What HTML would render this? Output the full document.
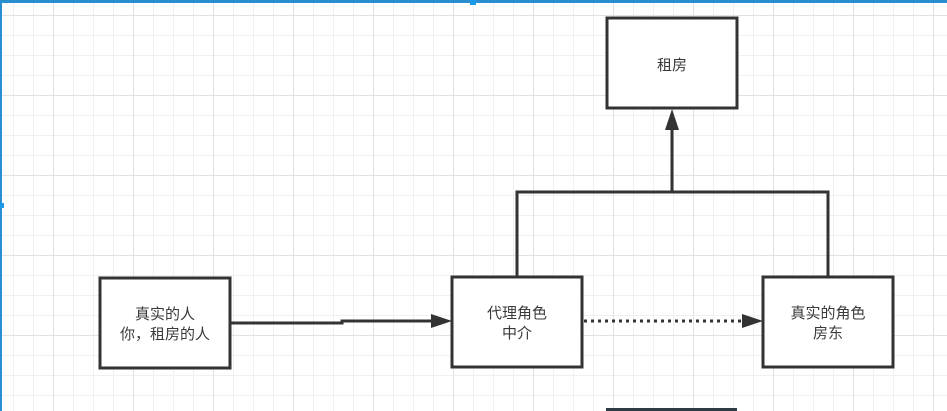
<!DOCTYPE html>
<html><head><meta charset="utf-8"><style>
html,body{margin:0;padding:0;}
body{width:947px;height:411px;overflow:hidden;position:relative;background:#fff;
background-image:linear-gradient(#e2e2e2 1px,transparent 1px),linear-gradient(90deg,#e2e2e2 1px,transparent 1px),linear-gradient(#f0f0f0 1px,transparent 1px),linear-gradient(90deg,#f0f0f0 1px,transparent 1px);
background-size:80px 80px,80px 80px,20px 20px,20px 20px;
background-position:0 15px,53px 0,0 15px,13px 0;}
svg{position:absolute;left:0;top:0;}
text{font-family:"Liberation Sans","Noto Sans CJK SC",sans-serif;font-size:15px;fill:#3a3a3a;text-anchor:middle;}
</style></head><body>
<svg width="947" height="411" viewBox="0 0 947 411">
<rect x="0" y="0" width="947" height="3" fill="#2a8fd0"/>
<rect x="0" y="0" width="2" height="411" fill="#2a8fd0"/>
<rect x="470" y="0" width="6" height="5" fill="#1a9ae8"/>
<rect x="0" y="203" width="4" height="5" fill="#1a9ae8"/>
<rect x="606" y="408" width="131" height="3" fill="#2e3b45"/>
<g fill="#fff" stroke="#333" stroke-width="3">
<rect x="607" y="18" width="130" height="90"/>
<rect x="100" y="278" width="130" height="90"/>
<rect x="452" y="277" width="130" height="90"/>
<rect x="763" y="277" width="130" height="90"/>
</g>
<g fill="none" stroke="#333" stroke-width="3">
<polyline points="517,277 517,192 828,192 828,277"/>
<line x1="672" y1="192" x2="672" y2="130"/>
<polyline points="231,323 342,323 342,321 432,321"/>
<line x1="584" y1="321" x2="744" y2="321" stroke-dasharray="3,4"/>
</g>
<g fill="#333">
<polygon points="665,130 679,130 672,109"/>
<polygon points="431,314 431,328 452,321"/>
<polygon points="742,314 742,328 763,321"/>
</g>
<text x="672" y="70">租房</text>
<text x="165" y="319">真实的人</text>
<text x="165" y="339">你，租房的人</text>
<text x="517" y="318">代理角色</text>
<text x="517" y="338">中介</text>
<text x="828" y="318">真实的角色</text>
<text x="828" y="338">房东</text>
</svg>
</body></html>
